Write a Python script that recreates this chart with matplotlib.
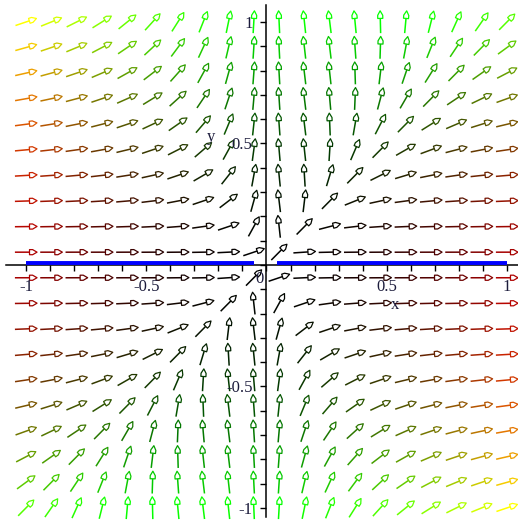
import numpy as np
import matplotlib
matplotlib.use("Agg")
import matplotlib.pyplot as plt
from matplotlib.collections import LineCollection, PolyCollection
from matplotlib.transforms import offset_copy


# autonomous system whose direction field is drawn
def xdot(x, y):
    return x * (2 * x - y)


def ydot(x, y):
    return y ** 2


n_grid = 20
x_range = (-1.0, 1.0)
y_range = (-1.0, 1.0)

# the y = 0 solution, broken at the origin
curve_x = [[-1.0, -0.052], [0.044, 1.0]]
curve_y = [[0.0, 0.0], [0.0, 0.0]]

x_ticks = [-1, -0.5, 0.5, 1]
x_ticklabels = ["-1", "-0.5", "0.5", "1"]
y_ticks = [-1, -0.5, 0.5, 1]
y_ticklabels = ["-1", "-0.5", "0.5", "1"]
minor_ticks = np.round(np.arange(-1.0, 1.01, 0.1), 2)

label_font = "Liberation Serif"
label_color = "#1c1c3c"

fig = plt.figure(figsize=(5.18, 5.23), dpi=100)
ax = fig.add_axes([0, 0, 1, 1])
ax.set_xlim(-1.108, 1.046)
ax.set_ylim(-1.062, 1.0905)

# arrows, all the same length, coloured by the size of each component
xs = np.linspace(*x_range, n_grid)
ys = np.linspace(*y_range, n_grid)
X, Y = np.meshgrid(xs, ys)
U = xdot(X, Y)
V = ydot(X, Y)
mag = np.hypot(U, V)
ux, uy = U / mag, V / mag
red = np.abs(U) / np.abs(U).max()
green = np.abs(V) / np.abs(V).max()

L = 0.092
hw = 0.0105
shafts, heads, cols = [], [], []
for i in range(n_grid):
    for j in range(n_grid):
        cx, cy = X[i, j], Y[i, j]
        dx, dy = ux[i, j], uy[i, j]
        px, py = -dy, dx
        tx, ty = cx - dx * L / 2, cy - dy * L / 2
        bx, by = tx + dx * 0.66 * L, ty + dy * 0.66 * L
        sx, sy = tx + dx * 0.80 * L, ty + dy * 0.80 * L
        ex, ey = tx + dx * L, ty + dy * L
        shafts.append([(tx, ty), (bx, by)])
        heads.append([(bx + px * hw, by + py * hw), (sx + px * hw, sy + py * hw),
                      (ex, ey),
                      (sx - px * hw, sy - py * hw), (bx - px * hw, by - py * hw)])
        cols.append((red[i, j], green[i, j], 0.0))

ax.add_collection(LineCollection(shafts, colors=cols, linewidths=1.1, zorder=1))
ax.add_collection(PolyCollection(heads, facecolors="white", edgecolors=cols,
                                 linewidths=0.9, zorder=1.1))

# solution curve, nudged just above the x axis line
lift = offset_copy(ax.transData, fig=fig, x=0, y=1.8, units="dots")
for cx_, cy_ in zip(curve_x, curve_y):
    ax.plot(cx_, cy_, color="#0000ff", lw=2.8, solid_capstyle="butt",
            transform=lift, zorder=3)

# axes through the origin
for side in ["top", "right"]:
    ax.spines[side].set_visible(False)
ax.spines["left"].set_position("zero")
ax.spines["bottom"].set_position("zero")
ax.spines["bottom"].set_bounds(-1.083, 1.046)
ax.spines["left"].set_bounds(-1.037, 1.07)
for side in ["left", "bottom"]:
    ax.spines[side].set_linewidth(1.1)
    ax.spines[side].set_zorder(2.5)

ax.set_xticks(x_ticks)
ax.set_xticklabels(x_ticklabels)
ax.set_yticks(y_ticks)
ax.set_yticklabels(y_ticklabels)
ax.set_xticks(minor_ticks, minor=True)
ax.set_yticks(minor_ticks, minor=True)
ax.tick_params(axis="x", which="both", direction="out", length=4, width=1, pad=6)
ax.tick_params(axis="y", which="both", direction="out", length=4, width=1, pad=6)
for lab in ax.get_xticklabels() + ax.get_yticklabels():
    lab.set_fontfamily(label_font)
    lab.set_fontsize(12)
    lab.set_color(label_color)

ax.text(-0.012, -0.025, "0", ha="right", va="top", fontsize=12,
        family=label_font, color=label_color, zorder=4)
ax.text(0.534, -0.165, "x", ha="center", va="center", fontsize=12,
        family=label_font, color=label_color, zorder=4)
ax.text(-0.232, 0.527, "y", ha="center", va="center", fontsize=12,
        family=label_font, color=label_color, zorder=4)

fig.savefig("out.png", dpi=100)
